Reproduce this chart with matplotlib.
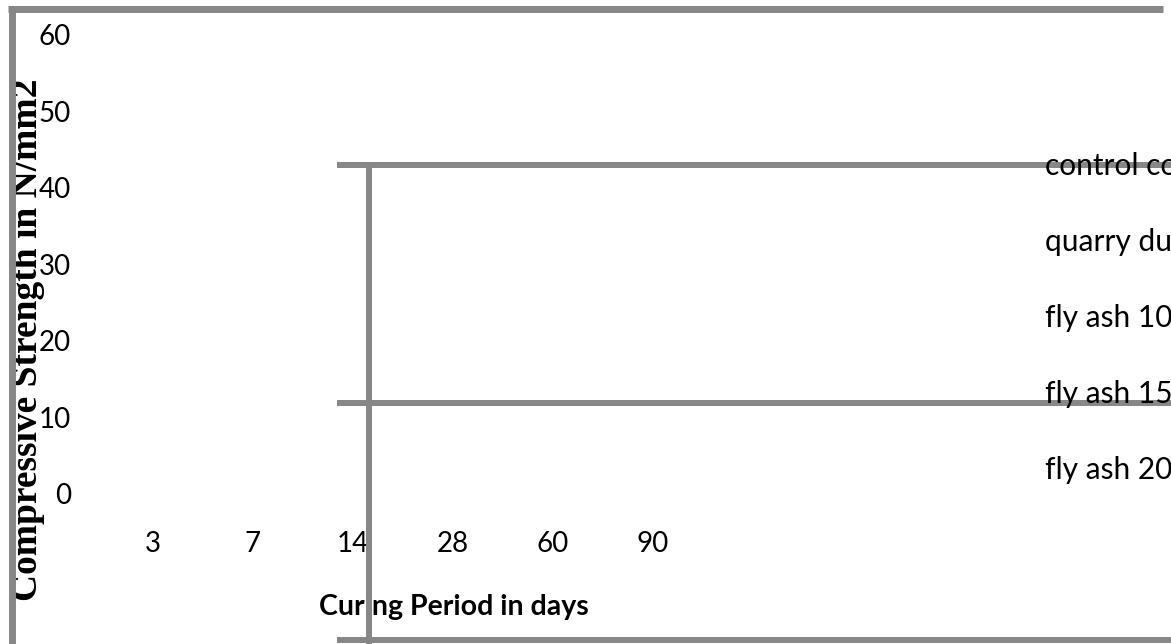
import matplotlib
matplotlib.use("Agg")
import matplotlib.pyplot as plt

# chart content
days = ["3", "7", "14", "28", "60", "90"]
y_ticks = [0, 10, 20, 30, 40, 50, 60]
series_names = ["control concrete", "quarry dust", "fly ash 10%", "fly ash 15%", "fly ash 20%"]

W, H = 1171, 644
GRAY = "#878787"

fig = plt.figure(figsize=(W / 100, H / 100), dpi=100)
fig.patch.set_facecolor("white")

# plot area (no series drawn in the original)
ax = fig.add_axes([103 / W, 1 - 494 / H, 600 / W, 459 / H])
ax.set_xlim(-0.5, len(days) - 0.5)
ax.set_ylim(0, 60)
ax.set_xticks(range(len(days)))
ax.set_xticklabels(days)
ax.set_yticks(y_ticks)
for s in ax.spines.values():
    s.set_visible(False)
ax.tick_params(axis="y", length=0, pad=23, labelsize=20)
ax.tick_params(axis="x", length=0, pad=27, labelsize=20)
for lab in ax.get_xticklabels() + ax.get_yticklabels():
    lab.set_family("Lato")
ax.patch.set_alpha(0)

ax.set_xlabel("Curing Period in days", family="Lato", fontweight="bold", fontsize=20.5, va="center")
ax.xaxis.set_label_coords((454 - 103) / 600, (494 - 607) / 459)

fig.text(28 / W, 1 - 340 / H, "Compressive Strength in N/mm2", rotation=90,
         ha="center", va="center", family="Liberation Serif", fontweight="bold", fontsize=27)

# frame lines of chart / plot area / legend box, in pixel coordinates
ov = fig.add_axes([0, 0, 1, 1], zorder=5)
ov.set_xlim(0, W)
ov.set_ylim(H, 0)
ov.axis("off")
ov.patch.set_alpha(0)
ov.plot([11.5, 11.5], [9, H + 5], color=GRAY, lw=5, solid_capstyle="butt")
ov.plot([8, 1163], [9, 9], color=GRAY, lw=5, solid_capstyle="butt")
for yy in [165, 403, 640]:
    ov.plot([337, W + 5], [yy, yy], color=GRAY, lw=4.3, solid_capstyle="butt")
ov.plot([369, 369], [162, H + 5], color=GRAY, lw=4.3, solid_capstyle="butt")

# legend entries (cut off at the right edge)
for i, name in enumerate(series_names):
    fig.text(1045 / W, 1 - (175 + 76 * i) / H, name, ha="left", va="baseline",
             family="Lato", fontsize=21.5, zorder=6)

fig.savefig("out.png", dpi=100)
